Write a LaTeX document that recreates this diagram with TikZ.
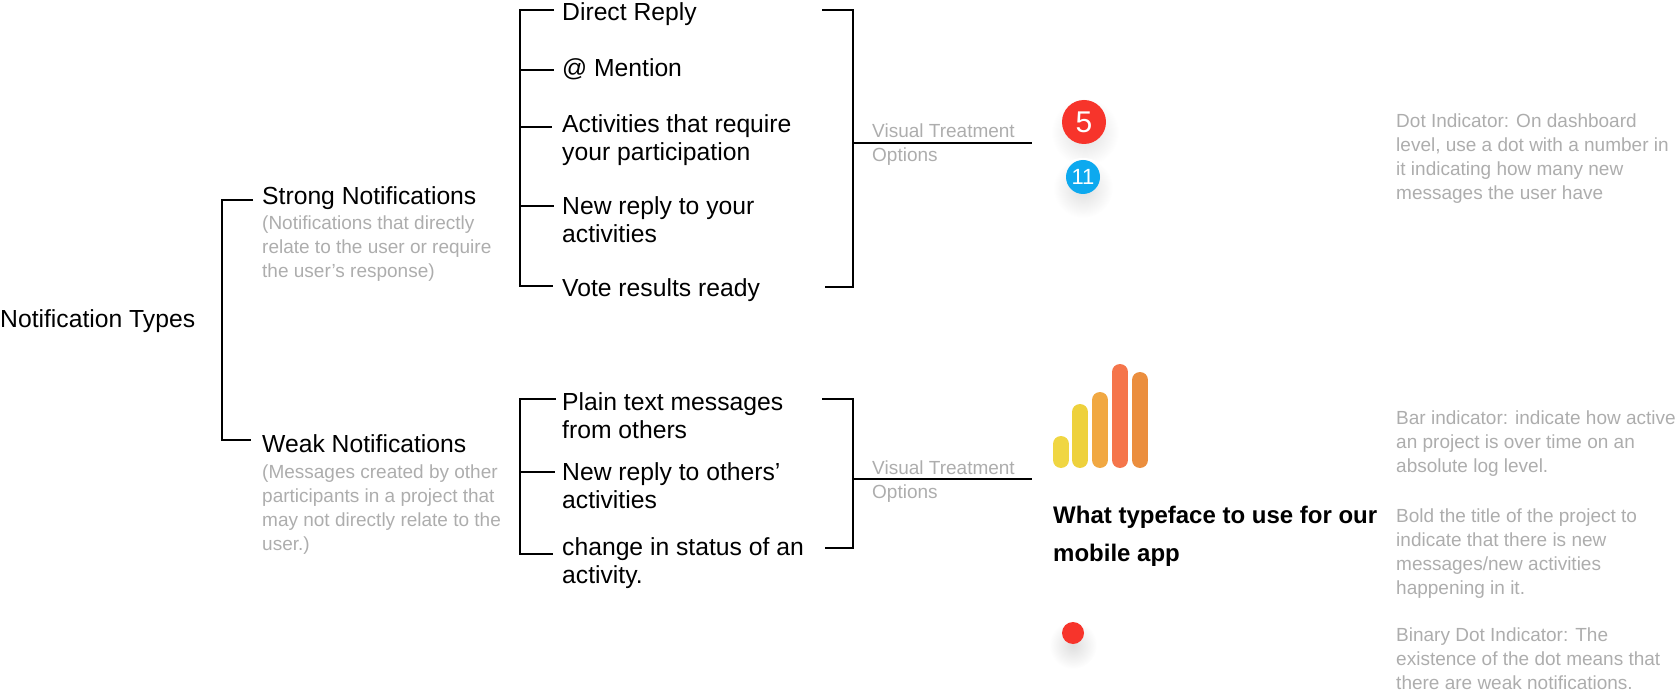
\documentclass[tikz,border=0pt]{standalone}
\usepackage{fontspec}
\setmainfont{Liberation Sans}
\definecolor{gtxt}{HTML}{ADADAD}
\definecolor{dotred}{HTML}{F7342B}
\definecolor{dotblue}{HTML}{0DA9EF}
\tikzset{
  px/.style={x=1pt,y=-1pt},
  lbl/.style={anchor=base west,inner sep=0pt,align=left,font=\fontsize{24.7}{28}\selectfont,text=black},
  note/.style={anchor=base west,inner sep=0pt,align=left,font=\fontsize{19}{24}\selectfont,text=gtxt},
  wire/.style={draw=black,line width=2pt,line cap=butt,line join=miter},
  bar/.style={line width=16pt,line cap=round},
  dotshadow/.style={inner color=black!13,outer color=white,draw=none},
  dotnum/.style={circle,inner sep=0pt,text=white}
}
\begin{document}
\begin{tikzpicture}[px]
\useasboundingbox (0,0) rectangle (1680,692);
% root and branches
\node[lbl] (root) at (0,327) {Notification Types};
\node[lbl] (strong) at (262,205) {Strong Notifications};
\node[note] (strongn) at (262,278) {(Notifications that directly\\relate to the user or require\\the user’s response)};
\node[lbl] (weak) at (262,452) {Weak Notifications};
\node[note] (weakn) at (262,550) {(Messages created by other\\participants in a project that\\may not directly relate to the\\user.)};
% strong items
\node[lbl] (s1) at (562,21) {Direct Reply};
\node[lbl] (s2) at (562,77) {@ Mention};
\node[lbl] (s3) at (562,161) {Activities that require\\your participation};
\node[lbl] (s4) at (562,243) {New reply to your\\activities};
\node[lbl] (s5) at (562,297) {Vote results ready};
% weak items
\node[lbl] (w1) at (562,438) {Plain text messages\\from others};
\node[lbl] (w2) at (562,508) {New reply to others’\\activities};
\node[lbl] (w3) at (562,583) {change in status of an\\activity.};
% visual treatment
\node[note] (vt1) at (872,162) {Visual Treatment\\Options};
\node[note] (vt2) at (872,498) {Visual Treatment\\Options};
% coordinates
\coordinate (mt) at (222,200);
\coordinate (mb) at (222,440);
\coordinate (mte) at (253,200);
\coordinate (mbe) at (251,440);
\coordinate (a1) at (520,10);
\coordinate (a1e) at (554,10);
\coordinate (a2) at (520,70);
\coordinate (a2e) at (554,70);
\coordinate (a3) at (520,127);
\coordinate (a3e) at (552,127);
\coordinate (a4) at (520,206);
\coordinate (a4e) at (554,206);
\coordinate (a5) at (520,286);
\coordinate (a5e) at (553,286);
\coordinate (b1) at (520,399);
\coordinate (b1e) at (556,399);
\coordinate (b2) at (520,472);
\coordinate (b2e) at (555,472);
\coordinate (b3) at (520,554);
\coordinate (b3e) at (553,554);
\coordinate (c1s) at (822,10);
\coordinate (c1c) at (853,10);
\coordinate (c1d) at (853,287);
\coordinate (c1e) at (825,287);
\coordinate (c1m) at (853,143);
\coordinate (c1t) at (1032,143);
\coordinate (c2s) at (822,399);
\coordinate (c2c) at (853,399);
\coordinate (c2d) at (853,548);
\coordinate (c2e) at (825,548);
\coordinate (c2m) at (853,479);
\coordinate (c2t) at (1032,479);
% wires
\draw[wire] (mte) -- (mt) -- (mb) -- (mbe);
\draw[wire] (a1e) -- (a1) -- (a5) -- (a5e);
\draw[wire] (a2) -- (a2e);
\draw[wire] (a3) -- (a3e);
\draw[wire] (a4) -- (a4e);
\draw[wire] (b1e) -- (b1) -- (b3) -- (b3e);
\draw[wire] (b2) -- (b2e);
\draw[wire] (c1s) -- (c1c) -- (c1d) -- (c1e);
\draw[wire] (c1m) -- (c1t);
\draw[wire] (c2s) -- (c2c) -- (c2d) -- (c2e);
\draw[wire] (c2m) -- (c2t);
% dots
\shade[dotshadow] (1085,132) circle (34pt);
\fill[dotred] (1084,122) circle (22pt);
\node[dotnum,font=\fontsize{30}{30}\selectfont] (five) at (1084,122) {5};
\shade[dotshadow] (1083,188) circle (30pt);
\fill[dotblue] (1083,177) circle (17pt);
\node[dotnum,font=\fontsize{22}{22}\selectfont] (eleven) at (1083,177) {11};
\shade[dotshadow] (1073,645) circle (24pt);
\fill[dotred] (1073,633) circle (11pt);
% bars
\draw[bar,color={rgb,255:red,240;green,214;blue,66}] (1061,460) -- (1061,444);
\draw[bar,color={rgb,255:red,238;green,209;blue,60}] (1080,460) -- (1080,412);
\draw[bar,color={rgb,255:red,241;green,168;blue,66}] (1100,460) -- (1100,400);
\draw[bar,color={rgb,255:red,245;green,117;blue,75}] (1120,460) -- (1120,372);
\draw[bar,color={rgb,255:red,235;green,142;blue,62}] (1140,460) -- (1140,380);
% typeface sample
\node[anchor=base west,inner sep=0pt,align=left,font=\bfseries\fontsize{24}{38}\selectfont] (tf) at (1053,561) {What typeface to use for our\\mobile app};
% right notes
\node[note] (d1) at (1396,200) {Dot Indicator: On dashboard\\level, use a dot with a number in\\it indicating how many new\\messages the user have};
\node[note] (d2) at (1396,472) {Bar indicator: indicate how active\\an project is over time on an\\absolute log level.};
\node[note] (d3) at (1396,594) {Bold the title of the project to\\indicate that there is new\\messages/new activities\\happening in it.};
\node[note] (d4) at (1396,689) {Binary Dot Indicator: The\\existence of the dot means that\\there are weak notifications.};
\end{tikzpicture}
\end{document}
